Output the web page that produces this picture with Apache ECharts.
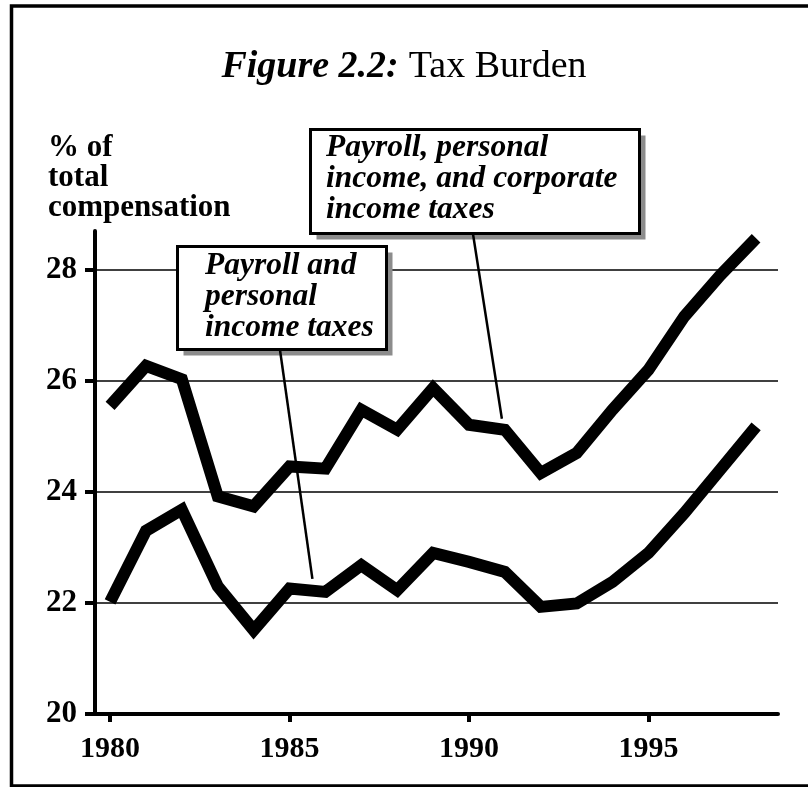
<!DOCTYPE html>
<html>
<head>
<meta charset="utf-8">
<script src="https://cdn.jsdelivr.net/npm/echarts@6/dist/echarts.min.js"></script>
<style>
  html, body { margin: 0; padding: 0; background: #fff; }
  #chart { width: 808px; height: 787px; }
</style>
</head>
<body>
<div id="chart"></div>
<script>
// values (percent of total compensation)
const years = [1980, 1981, 1982, 1983, 1984, 1985, 1986, 1987, 1988, 1989,
  1990, 1991, 1992, 1993, 1994, 1995, 1996, 1997, 1998];
const allTaxes = [25.55, 26.27, 26.03, 23.92, 23.74, 24.46, 24.42, 25.48, 25.12, 25.87,
  25.21, 25.12, 24.34, 24.70, 25.48, 26.20, 27.16, 27.90, 28.57];
const payrollPersonal = [22.02, 23.30, 23.68, 22.30, 21.51, 22.26, 22.20, 22.68, 22.23, 22.90,
  22.74, 22.56, 21.93, 21.99, 22.38, 22.90, 23.62, 24.40, 25.18];

const yTicks = [20, 22, 24, 26, 28];
const xTicks = [1980, 1985, 1990, 1995];

const titleBold = "Figure 2.2:";
const titlePlain = "Tax Burden";
const yName = ["% of", "total", "compensation"];
const noteAll = ["Payroll, personal", "income, and corporate", "income taxes"];
const notePP = ["Payroll and", "personal", "income taxes"];

const serif = '"Liberation Serif", "Times New Roman", Times, serif';

const chart = echarts.init(document.getElementById("chart"));

const lineSeries = (name, data) => ({
  name: name,
  type: "line",
  data: years.map((y, i) => [y, data[i]]),
  showSymbol: false,
  symbol: "none",
  silent: true,
  lineStyle: { color: "#000", width: 12, cap: "butt", join: "miter" },
  z: 3
});

chart.setOption({
  animation: false,
  title: [
    {
      text: "{b|" + titleBold + "}  {r|" + titlePlain + "}",
      left: "center",
      top: 43,
      textStyle: {
        rich: {
          b: { fontFamily: serif, fontSize: 38, fontWeight: "bold", fontStyle: "italic", color: "#000" },
          r: { fontFamily: serif, fontSize: 38, fontWeight: "normal", color: "#000" }
        }
      }
    },
    {
      text: yName.join("\n"),
      left: 43,
      top: 128,
      textStyle: { fontFamily: serif, fontSize: 31, fontWeight: "bold", color: "#000", lineHeight: 30 }
    }
  ],
  grid: { left: 95, right: 30, top: 231, bottom: 73 },
  xAxis: {
    type: "value",
    min: 1979.58,
    max: 1998.61,
    splitLine: { show: false },
    axisLine: { lineStyle: { color: "#000", width: 4 } },
    axisTick: { customValues: xTicks, length: 8, lineStyle: { color: "#000", width: 4 } },
    axisLabel: {
      customValues: xTicks,
      formatter: (v) => String(v),
      margin: 20,
      color: "#000",
      fontFamily: serif,
      fontSize: 30,
      fontWeight: "bold"
    }
  },
  yAxis: {
    type: "value",
    min: 20,
    max: 28.7,
    interval: 2,
    axisLine: { show: true, lineStyle: { color: "#000", width: 4 } },
    axisTick: { show: true, customValues: yTicks, length: 10, lineStyle: { color: "#000", width: 4 } },
    splitLine: {
      show: true,
      lineStyle: { color: ["#000", "#000", "#000", "#000", "#000", "rgba(0,0,0,0)"], width: 1.6 }
    },
    axisLabel: {
      customValues: yTicks,
      margin: 18,
      color: "#000",
      fontFamily: serif,
      fontSize: 31,
      fontWeight: "bold"
    }
  },
  series: [
    lineSeries("Payroll, personal income, and corporate income taxes", allTaxes),
    lineSeries("Payroll and personal income taxes", payrollPersonal)
  ]
});

// annotation boxes with leader lines pointing at the two series
const ptAll = chart.convertToPixel({ gridIndex: 0 }, [years[11], allTaxes[11]]);
const ptPP = chart.convertToPixel({ gridIndex: 0 }, [years[6], payrollPersonal[6]]);

const noteFont = "italic bold 31.5px " + serif;
const box = (x, y, w, h) => [
  {
    type: "rect",
    shape: { x: x + 6, y: y + 6, width: w, height: h },
    style: { fill: "#8c8c8c" },
    z: 9
  },
  {
    type: "rect",
    shape: { x: x, y: y, width: w, height: h },
    style: { fill: "#fff", stroke: "#000", lineWidth: 3 },
    z: 10
  }
];
const note = (x, y, lines) => ({
  type: "text",
  x: x, y: y,
  style: { text: lines.join("\n"), font: noteFont, fill: "#000", lineHeight: 31, verticalAlign: "top" },
  z: 11
});
const leader = (x1, y1, x2, y2) => ({
  type: "line",
  shape: { x1: x1, y1: y1, x2: x2, y2: y2 },
  style: { stroke: "#000", lineWidth: 2.5 },
  z: 12
});

chart.setOption({
  graphic: [
    {
      type: "rect",
      shape: { x: 11.5, y: 6, width: 830, height: 780 },
      style: { fill: "none", stroke: "#000", lineWidth: 3.5 },
      z: 0
    },
    ...box(310.5, 129.5, 329, 104),
    note(326, 132, noteAll),
    leader(473, 234, ptAll[0] - 3, ptAll[1] - 11),
    ...box(177.5, 246.5, 209, 103),
    note(205, 250, notePP),
    leader(280, 350, ptPP[0] - 13, ptPP[1] - 13)
  ]
});
</script>
</body>
</html>
